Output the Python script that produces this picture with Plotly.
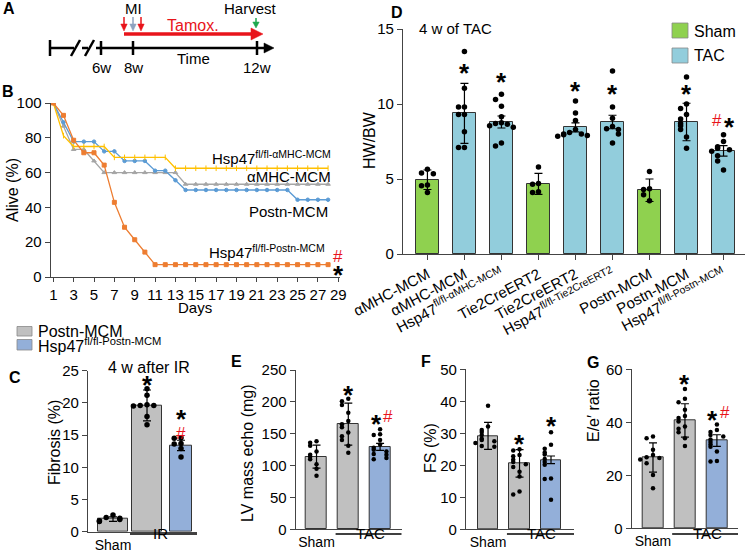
import plotly.graph_objects as go

W, H = 753, 551
FONT = "Liberation Sans, Arial, sans-serif"

# ---------------- DATA ----------------
days = list(range(1, 29))
surv_amhc = [100, 86.7, 73.3, 73.3, 66.7] + [60] * 8 + [53.3] * 15
surv_postn = [100, 88.9, 77.8, 77.8, 77.8, 72.2, 72.2, 66.7, 66.7, 66.7, 61.1, 61.1, 55.6] + [50] * 11 + [44.4] * 4
surv_hsp_amhc = [100, 81.25, 75, 75, 75, 75] + [68.75] * 6 + [62.5] * 16
surv_hsp_postn = [100, 92.9, 78.6, 71.4, 71.4, 64.3, 42.9, 28.6, 21.4, 14.3] + [7.1] * 18

d_labels = ["αMHC-MCM", "αMHC-MCM", "Hsp47<sup>fl/fl-αMHC-MCM</sup>",
            "Tie2CreERT2", "Tie2CreERT2", "Hsp47<sup>fl/fl-Tie2CreERT2</sup>",
            "Postn-MCM", "Postn-MCM", "Hsp47<sup>fl/fl-Postn-MCM</sup>"]
d_groups = ["Sham", "TAC", "TAC", "Sham", "TAC", "TAC", "Sham", "TAC", "TAC"]
d_means = [4.95, 9.38, 8.8, 4.68, 8.44, 8.8, 4.25, 8.8, 6.87]
d_err = [0.65, 2.0, 0.4, 0.7, 0.3, 0.45, 0.75, 1.25, 0.35]
d_points = [
    [5.65, 5.4, 5.35, 4.6, 4.55, 4.1],
    [13.5, 11.05, 9.8, 9.8, 9.3, 9.3, 8.15, 7.1, 7.1],
    [10.65, 10.3, 9.85, 9.15, 8.75, 8.7, 8.65, 8.55, 8.45, 7.4, 7.2],
    [5.8, 4.7, 4.65, 4.15, 4.1],
    [10.2, 9.4, 8.9, 8.3, 8.1, 8.0, 8.0, 7.95, 7.9, 7.85],
    [12.2, 9.8, 9.05, 8.5, 8.35, 8.3, 8.0, 7.4],
    [5.5, 4.35, 4.3, 3.95, 3.55],
    [11.8, 10.0, 9.7, 9.3, 9.0, 8.7, 8.55, 8.3, 7.8, 7.05],
    [7.95, 7.5, 7.15, 7.05, 6.95, 6.85, 6.55, 6.2, 5.6],
]

c_means = [1.95, 19.6, 13.4]
c_err = [0.35, 2.4, 0.8]
c_points = [[2.6, 2.2, 2.1, 1.9, 1.7, 1.6],
            [22.2, 21.2, 19.7, 19.6, 19.6, 19.5, 17.9, 16.6],
            [14.6, 14.5, 13.7, 13.6, 12.9, 11.6]]

e_means = [114, 165, 129.5]
e_err = [18, 33, 5.5]
e_points = [[138, 136, 131, 122, 117, 114, 110, 102, 95, 84],
            [205, 201, 195, 183, 170, 165, 160, 152, 146, 140, 131, 120],
            [157, 149, 148, 140, 133, 128, 125, 122, 118, 117, 112, 110]]

f_means = [29.2, 20.6, 21.7]
f_err = [4.2, 4.3, 1.2]
f_points = [[38.6, 32.1, 31.0, 30.4, 29.5, 28.3, 27.9, 27.5, 27.0, 26.0, 25.8],
            [25.0, 24.6, 23.2, 22.8, 21.7, 21.0, 20.3, 19.5, 18.0, 16.5, 11.8, 10.9],
            [30.3, 26.4, 25.2, 24.0, 23.4, 22.0, 21.0, 20.2, 15.9, 15.7, 9.2]]

g_means = [26.7, 40.7, 33.1]
g_err = [5.5, 6.3, 2.2]
g_points = [[34.6, 34.0, 29.6, 27.7, 26.8, 26.5, 26.0, 24.5, 20.1, 15.1],
            [52.6, 48.9, 47.6, 44.7, 42.4, 41.6, 40.3, 38.4, 37.6, 36.2, 34.0, 31.1],
            [39.2, 37.1, 36.3, 35.2, 34.6, 33.5, 32.6, 31.6, 30.8, 29.0, 25.4, 25.2]]

# ---------------- STYLE ----------------
C_GRAY = "#A5A5A5"
C_BLUE = "#5B9BD5"
C_YEL = "#FFC000"
C_ORA = "#ED7D31"
SHAM_G = "#8FD14F"
TAC_B = "#92CDDC"
BAR_GRAY = "#C0C0C0"
BAR_BLUE = "#93AFD9"
RED = "#E8141B"
AXC = "#444444"


def px(x):
    return x / W


def py(y):
    return 1 - y / H


def jitter(vals, thr, step):
    offs = []
    placed = []
    pattern = [0, -1, 1, -2, 2, -3, 3]
    for v in vals:
        k = sum(1 for p in placed if abs(p - v) < thr)
        offs.append(pattern[min(k, len(pattern) - 1)] * step)
        placed.append(v)
    return offs


fig = go.Figure()

# ---------------- Panel B ----------------
for vals, col, sym, sz in [(surv_amhc, C_GRAY, "triangle-up", 4),
                           (surv_postn, C_BLUE, "circle", 3.5),
                           (surv_hsp_amhc, C_YEL, "line-ns", 4),
                           (surv_hsp_postn, C_ORA, "square", 4)]:
    fig.add_trace(go.Scatter(x=days, y=vals, mode="lines+markers",
                             line=dict(color=col, width=1.3),
                             marker=dict(symbol=sym, size=sz, color=col,
                                         line=dict(color=col, width=1)),
                             xaxis="x", yaxis="y", showlegend=False,
                             hoverinfo="skip"))

# ---------------- Panel D ----------------
d_x = list(range(len(d_means)))
fig.add_trace(go.Bar(x=d_x, y=d_means, width=0.6,
                     marker=dict(color=[SHAM_G if g == "Sham" else TAC_B for g in d_groups],
                                 line=dict(color="#333333", width=1)),
                     error_y=dict(type="data", array=d_err, color="black", thickness=1.2, width=4),
                     xaxis="x2", yaxis="y2", showlegend=False))
for i, pts in enumerate(d_points):
    off = jitter(pts, 0.35, 0.16)
    fig.add_trace(go.Scatter(x=[i + o for o in off], y=pts, mode="markers",
                             marker=dict(color="black", size=5.5),
                             xaxis="x2", yaxis="y2", showlegend=False))


# ---------------- Panels C, E, F, G ----------------
def small_panel(means, err, points, ax, thr, step, size, widths=(0.66, 0.66, 0.66)):
    fig.add_trace(go.Bar(x=[0, 1, 2], y=means, width=list(widths),
                         marker=dict(color=[BAR_GRAY, BAR_GRAY, BAR_BLUE],
                                     line=dict(color="#333333", width=1)),
                         error_y=dict(type="data", array=err, color="black", thickness=1.2, width=4),
                         xaxis="x" + ax, yaxis="y" + ax, showlegend=False))
    for i, pts in enumerate(points):
        off = jitter(pts, thr, step)
        fig.add_trace(go.Scatter(x=[i + o for o in off], y=pts, mode="markers",
                                 marker=dict(color="black", size=size),
                                 xaxis="x" + ax, yaxis="y" + ax, showlegend=False))


small_panel(c_means, c_err, c_points, "3", 0.6, 0.2, 5.5, widths=(0.9, 0.88, 0.66))
small_panel(e_means, e_err, e_points, "4", 7, 0.2, 4.5)
small_panel(f_means, f_err, f_points, "5", 1.4, 0.2, 4.5)
small_panel(g_means, g_err, g_points, "6", 1.7, 0.2, 4.5)

tickfont = dict(family=FONT, size=15, color="black")


def yax(dom, rng, dtick):
    return dict(domain=dom, range=rng, dtick=dtick, tick0=0, showline=True, linecolor=AXC,
                linewidth=1.2, ticks="outside", ticklen=5, tickcolor=AXC, tickwidth=1.2,
                showgrid=False, zeroline=False, tickfont=tickfont, fixedrange=True,
                automargin=False)


def xax_small(dom, rng, anchor):
    return dict(domain=dom, range=rng, anchor=anchor, showline=True, linecolor=AXC, linewidth=1.2,
                tickvals=[0], ticktext=["Sham"], ticks="", showgrid=False, zeroline=False,
                tickfont=dict(family=FONT, size=14, color="black"), fixedrange=True,
                automargin=False)


fig.update_layout(
    template="none",
    width=W, height=H, margin=dict(l=0, r=0, t=0, b=0, pad=0, autoexpand=False),
    paper_bgcolor="white", plot_bgcolor="rgba(0,0,0,0)",
    font=dict(family=FONT, size=14, color="black"),
    bargap=0,
    xaxis=dict(domain=[px(50.7), px(340)], range=[0.745, 29.17], anchor="y",
               tickvals=list(range(1, 30, 2)), showline=True, linecolor=AXC, linewidth=1.2,
               ticks="outside", ticklen=4, tickcolor=AXC, showgrid=False, zeroline=False,
               tickfont=tickfont, fixedrange=True, automargin=False),
    yaxis=dict(yax([py(277), py(103)], [0, 100], 20), anchor="x"),
    xaxis2=dict(domain=[px(403), px(745)], range=[-0.66, 8.58], anchor="y2",
                tickvals=d_x, ticktext=d_labels, tickangle=-28, showline=True, linecolor=AXC,
                linewidth=1.2, ticks="outside", ticklen=5, tickcolor=AXC, showgrid=False,
                zeroline=False, tickfont=tickfont, fixedrange=True, automargin=False),
    yaxis2=dict(yax([py(254), py(29)], [0, 15], 5), anchor="x2"),
    xaxis3=xax_small([px(88), px(197)], [-0.735, 2.47], "y3"),
    yaxis3=dict(yax([py(531.7), py(370.7)], [0, 25], 5), anchor="x3"),
    xaxis4=xax_small([px(295.7), px(401.7)], [-0.655, 2.68], "y4"),
    yaxis4=dict(yax([py(529.3), py(370)], [0, 250], 50), anchor="x4"),
    xaxis5=xax_small([px(466), px(574)], [-0.70, 2.73], "y5"),
    yaxis5=dict(yax([py(529.3), py(369.3)], [0, 50], 10), anchor="x5"),
    xaxis6=xax_small([px(631.7), px(738)], [-0.666, 2.66], "y6"),
    yaxis6=dict(yax([py(528.3), py(369.3)], [0, 60], 20), anchor="x6"),
)

ann = []
shapes = []


def text(x, y, s, size=14, color="black", bold=False, angle=0, xanchor="center", yanchor="middle"):
    if bold:
        s = "<b>" + s + "</b>"
    ann.append(dict(x=px(x), y=py(y), xref="paper", yref="paper", text=s, showarrow=False,
                    font=dict(family=FONT, size=size, color=color), textangle=angle,
                    xanchor=xanchor, yanchor=yanchor))


def star(xr, yr, x, y, s="*", color="black", size=26, xshift=0):
    if s == "*":
        ann.append(dict(x=x, y=y, xref=xr, yref=yr, text="<b>*</b>", showarrow=False, yshift=-7,
                        xshift=xshift, font=dict(family=FONT, size=size, color=color)))
    else:
        ann.append(dict(x=x, y=y, xref=xr, yref=yr, text=s, showarrow=False, xshift=xshift,
                        font=dict(family=FONT, size=17, color=color)))


def pline(x0, y0, x1, y1, color="black", width=2.5):
    shapes.append(dict(type="line", xref="paper", yref="paper", x0=px(x0), y0=py(y0),
                       x1=px(x1), y1=py(y1), line=dict(color=color, width=width)))


def tri(pts, color):
    path = "M " + " L ".join(f"{px(a):.5f},{py(b):.5f}" for a, b in pts) + " Z"
    shapes.append(dict(type="path", xref="paper", yref="paper", path=path,
                       fillcolor=color, line=dict(color=color, width=0.5)))


# ---------------- Panel A (schematic) ----------------
text(9, 9, "A", 16, bold=True)
pline(50, 48, 74, 48)
pline(82, 48, 88, 48)
pline(96, 48, 266, 48)
tri([(274, 48), (264, 43), (264, 53)], "black")
pline(50, 40, 50, 56)
pline(71, 56, 80, 40)
pline(85, 56, 94, 40)
for xt in [101, 133, 257]:
    pline(xt, 41, xt, 55)
text(101, 68, "6w", 15)
text(133, 68, "8w", 15)
text(257, 68, "12w", 15)
text(193, 58, "Time", 15)
pline(124, 34, 253, 34, RED, 3.5)
tri([(263, 34), (251, 28), (251, 40)], RED)
text(193, 25, "Tamox.", 16, color=RED)
text(133, 9, "MI", 15)
for xa, col in [(124, RED), (133, "#8FA3C0"), (141, RED)]:
    pline(xa, 17, xa, 25, col, 1.5)
    tri([(xa, 31), (xa - 3.2, 24), (xa + 3.2, 24)], col)
text(250, 9, "Harvest", 15)
pline(256, 18, 256, 23, "#1FA84F", 1.5)
tri([(256, 28), (252.8, 22), (259.2, 22)], "#1FA84F")

# ---------------- Panel B labels ----------------
text(8, 92, "B", 16, bold=True)
text(12, 190, "Alive (%)", 16, angle=-90)
text(195, 307, "Days", 15)
text(333, 157, "Hsp47<sup>fl/fl-αMHC-MCM</sup>", 15, xanchor="right")
text(333, 176, "αMHC-MCM", 15, xanchor="right")
text(330, 211, "Postn-MCM", 15, xanchor="right")
text(327, 251, "Hsp47<sup>fl/fl-Postn-MCM</sup>", 15, xanchor="right")
text(338, 256, "#", 17, color=RED)
ann.append(dict(x=px(338), y=py(268), xref="paper", yref="paper", text="<b>*</b>", showarrow=False,
                yshift=-7, font=dict(family=FONT, size=26, color="black")))

# ---------------- Panel D labels ----------------
text(397, 12, "D", 16, bold=True)
text(369, 140, "HW/BW", 16, angle=-90)
text(417, 28, "4 w of TAC", 15, xanchor="left")
shapes.append(dict(type="rect", xref="paper", yref="paper", x0=px(672), x1=px(688), y0=py(38), y1=py(23),
                   fillcolor=SHAM_G, line=dict(color="#888", width=0.8)))
shapes.append(dict(type="rect", xref="paper", yref="paper", x0=px(672), x1=px(688), y0=py(63), y1=py(48),
                   fillcolor=TAC_B, line=dict(color="#888", width=0.8)))
text(692, 32, "Sham", 16, xanchor="left")
text(692, 56, "TAC", 16, xanchor="left")
for i, ys in [(1, 12.5), (2, 11.9), (4, 11.3), (5, 11.1), (7, 11.1)]:
    star("x2", "y2", i, ys)
star("x2", "y2", 8, 8.9, xshift=6)
star("x2", "y2", 8, 8.9, "#", RED, xshift=-7)

# ---------------- Panel C ----------------
text(15, 377, "C", 16, bold=True)
shapes.append(dict(type="rect", xref="paper", yref="paper", x0=px(17), x1=px(32), y0=py(336), y1=py(326.5),
                   fillcolor=BAR_GRAY, line=dict(color="#888", width=0.8)))
shapes.append(dict(type="rect", xref="paper", yref="paper", x0=px(17), x1=px(32), y0=py(350), y1=py(339.5),
                   fillcolor=BAR_BLUE, line=dict(color="#888", width=0.8)))
text(36, 331, "Postn-MCM", 16, xanchor="left")
text(36, 345, "Hsp47<sup>fl/fl-Postn-MCM</sup>", 16, xanchor="left")
text(149, 367, "4 w after IR", 16)
text(54, 443, "Fibrosis (%)", 16, angle=-90)
star("x3", "y3", 1, 23.9)
star("x3", "y3", 2, 18.6)
star("x3", "y3", 2, 15.2, "#", RED)


def group_label(ax, label, x0, x1, xc):
    shapes.append(dict(type="line", xref="x" + ax, yref="paper", x0=x0, x1=x1, y0=py(534), y1=py(534),
                       line=dict(color="black", width=1.5)))
    ann.append(dict(x=xc, y=py(543.5), xref="x" + ax, yref="paper", text=label, showarrow=False,
                    font=dict(family=FONT, size=15, color="black")))


group_label("3", "IR", 0.5, 2.47, 1.4)

# ---------------- Panel E ----------------
text(236, 361, "E", 16, bold=True)
text(247, 453, "LV mass echo (mg)", 16, angle=-90)
star("x4", "y4", 1, 221)
star("x4", "y4", 2, 177, xshift=-4)
star("x4", "y4", 2, 177, "#", RED, xshift=8)
group_label("4", "TAC", 0.6, 2.68, 1.7)

# ---------------- Panel F ----------------
text(426, 361, "F", 16, bold=True)
text(430, 448, "FS (%)", 16, angle=-90)
star("x5", "y5", 1, 28.8)
star("x5", "y5", 2, 34.4)
group_label("5", "TAC", 0.6, 2.73, 1.7)

# ---------------- Panel G ----------------
text(593, 362, "G", 16, bold=True)
text(593, 411, "E/e′ ratio", 16, angle=-90)
star("x6", "y6", 1, 57)
star("x6", "y6", 2, 43.6, xshift=-4)
star("x6", "y6", 2, 43.6, "#", RED, xshift=8)
group_label("6", "TAC", 0.6, 2.66, 1.7)

fig.update_layout(annotations=ann, shapes=shapes)
fig.write_html("out.html", config={"responsive": False, "displayModeBar": False},
               post_script="document.body.style.margin='0';document.body.style.overflow='hidden';")
